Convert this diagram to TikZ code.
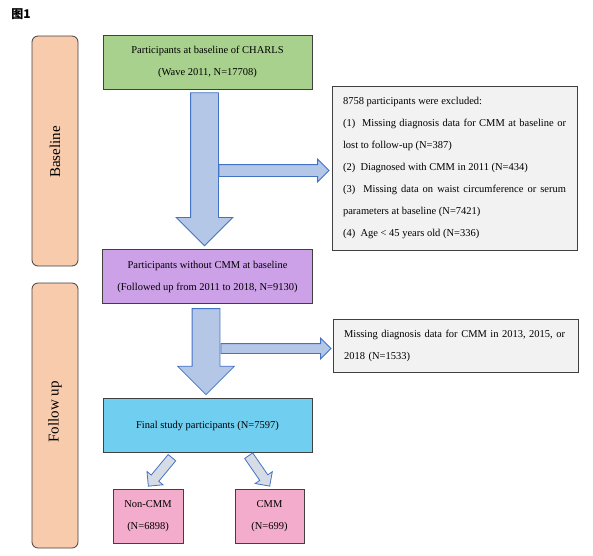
\documentclass[tikz,border=0pt]{standalone}
\usepackage{fontspec}
\setmainfont{Liberation Serif}
\newfontfamily\cjk{Noto Sans CJK SC}
\usepackage{tikz}
\usetikzlibrary{positioning,calc,shapes.arrows}
\definecolor{edge}{RGB}{64,64,64}
\definecolor{stagefill}{RGB}{248,203,173}
\definecolor{startfill}{RGB}{169,209,142}
\definecolor{keepfill}{RGB}{204,161,232}
\definecolor{finalfill}{RGB}{112,206,240}
\definecolor{groupfill}{RGB}{244,172,204}
\definecolor{notefill}{RGB}{242,242,242}
\definecolor{arrowfill}{RGB}{180,199,231}
\definecolor{splitfill}{RGB}{214,220,229}
\definecolor{arrowline}{RGB}{68,114,196}
\tikzset{
    stage/.style={draw=edge, fill=stagefill, rounded corners=6pt, line width=0.8pt, minimum width=46pt},
    flow/.style={draw=edge, line width=0.8pt, align=center, font=\fontsize{10.5}{22}\selectfont, minimum height=54pt},
    note/.style={draw=edge, fill=notefill, line width=0.8pt, align=justify, font=\fontsize{10.5}{22}\selectfont, text width=223pt, inner xsep=11pt},
    fatdown/.style={single arrow, draw=arrowline, fill=arrowfill, line width=0.8pt, inner xsep=0pt, inner ysep=13.5pt, single arrow head extend=14.5pt, single arrow head indent=0pt, rotate=-90, anchor=tail},
    sidearrow/.style={single arrow, draw=arrowline, fill=arrowfill, line width=0.8pt, inner xsep=0pt, single arrow head extend=5.5pt, single arrow head indent=0pt, anchor=tip, minimum height=110pt},
    split/.style={single arrow, draw=arrowline, fill=splitfill, line width=0.8pt, inner xsep=0pt, inner ysep=4.5pt, single arrow head extend=5.5pt, single arrow head indent=0pt, anchor=tip, minimum height=37pt}
}
\begin{document}
\begin{tikzpicture}[x=1pt, y=1pt]
\useasboundingbox (0,0) rectangle (593,-555);
\node[font=\cjk\bfseries\fontsize{12}{12}\selectfont] (title) at (21,-14) {图1};
% stages
\node[stage, minimum height=230pt] (base) at (55,-151) {};
\node[stage, minimum height=265pt] (follow) at (55,-415.5) {};
\node[rotate=90, font=\fontsize{15}{15}\selectfont] (basetext) at (55,-152) {Baseline};
\node[rotate=90, font=\fontsize{15}{15}\selectfont] (followtext) at (55,-412) {Follow up};
% main flow
\node[flow, fill=startfill, minimum width=209pt] (start) at (207.5,-62) {Participants at baseline of CHARLS\\(Wave 2011, N=17708)};
\node[flow, fill=keepfill, minimum width=210pt, below=160pt of start] (nocmm) {Participants without CMM at baseline\\(Followed up from 2011 to 2018, N=9130)};
\node[flow, fill=finalfill, minimum width=209pt, below=94pt of nocmm] (final) {Final study participants (N=7597)};
\node[flow, fill=groupfill, minimum width=70pt] (noncmm) at (148,-516) {Non-CMM\\(N=6898)};
\node[flow, fill=groupfill, minimum width=69pt] (cmm) at (269.5,-516) {CMM\\(N=699)};
% exclusions
\node[note, minimum height=164pt] (excl) at (454.5,-168) {8758 participants were excluded:\\
(1)\ \ Missing diagnosis data for CMM at baseline or\linebreak lost to follow-up (N=387)\\
(2)\ \ Diagnosed with CMM in 2011 (N=434)\\
(3)\ \ Missing data on waist circumference or serum\linebreak parameters at baseline (N=7421)\\
(4)\ \ Age < 45 years old (N=336)};
\node[note, minimum height=53pt, align=left] (miss) at (455.5,-345.5) {Missing diagnosis data for CMM in 2013, 2015, or\\2018 (N=1533)};
% arrows
\node[fatdown, minimum height=153pt] (down1) at ($(start.south)+(-3,-3)$) {};
\node[fatdown, minimum height=86pt] (down2) at ($(nocmm.south)+(-1.5,-4)$) {};
\node[sidearrow, inner ysep=5.5pt] (out1) at ($(excl.west)+(-2,-2.5)$) {};
\node[sidearrow, inner ysep=4.5pt] (out2) at ($(miss.west)+(-1,-3)$) {};
\node[split, rotate=230.4] (toleft) at ($(noncmm.north)+(0,2)$) {};
\node[split, rotate=-55.4] (toright) at ($(cmm.north)+(0.5,2)$) {};
\end{tikzpicture}
\end{document}
